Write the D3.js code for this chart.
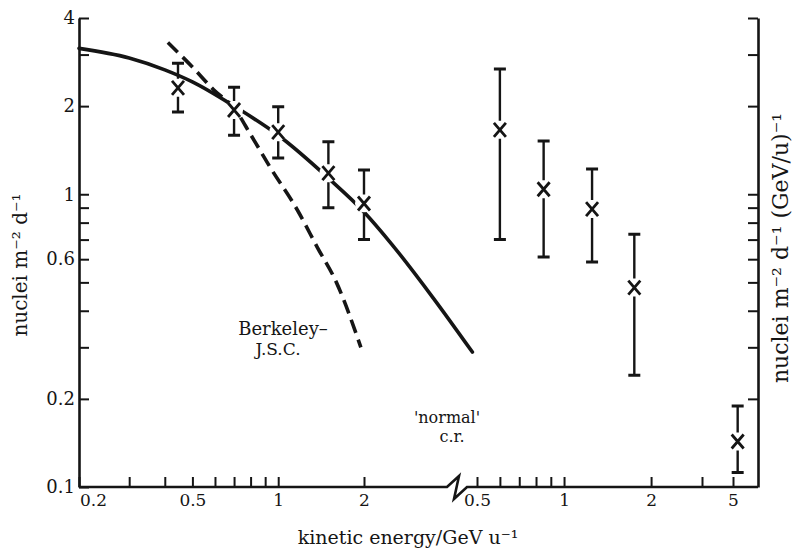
<!DOCTYPE html>
<html>
<head>
<meta charset="utf-8">
<script src="https://cdn.jsdelivr.net/npm/d3@7"></script>
<style>
  body { margin: 0; background: #fff; }
  svg { display: block; font-family: "DejaVu Serif", serif; }
</style>
</head>
<body>
<svg id="chart" width="793" height="556"></svg>
<script>
// 'normal' cosmic-ray curve (left block, nuclei m^-2 d^-1)
const crEnergy = [0.2, 0.3, 0.4, 0.5, 0.7, 1.0, 1.5, 2.0, 2.5, 3.5, 4.8];
const crFlux   = [3.15, 2.92, 2.66, 2.42, 2.0, 1.59, 1.135, 0.87, 0.676, 0.442, 0.289];
// Berkeley - J.S.C. dashed curve
const bjEnergy = [0.41, 0.5, 0.6, 0.7, 0.8, 0.94, 1.17, 1.37, 1.6, 1.95];
const bjFlux   = [3.3, 2.72, 2.25, 1.97, 1.6, 1.23, 0.88, 0.66, 0.5, 0.3];
// measured points, left block
const lowE   = [0.445, 0.7, 1.0, 1.5, 2.0];
const lowVal = [2.31, 1.94, 1.63, 1.18, 0.93];
const lowHi  = [2.80, 2.32, 1.99, 1.51, 1.21];
const lowLo  = [1.91, 1.59, 1.33, 0.90, 0.70];
// measured points, right block (per GeV/u)
const highE   = [0.6, 0.85, 1.25, 1.75, 5.4];
const highVal = [1.66, 1.04, 0.89, 0.48, 0.143];
const highHi  = [2.68, 1.52, 1.22, 0.73, 0.189];
const highLo  = [0.70, 0.61, 0.587, 0.241, 0.112];
// ticks
const yTicks   = [0.1, 0.2, 0.3, 0.4, 0.5, 0.6, 0.7, 0.8, 0.9, 1, 2, 3, 4];
const yLabels  = [0.1, 0.2, 0.6, 1, 2, 4];
const yTicksR  = [0.2, 0.3, 0.4, 0.5, 0.6, 0.7, 0.8, 0.9, 1, 2, 3, 4];
const xTicks1  = [0.2, 0.3, 0.4, 0.5, 0.6, 0.7, 0.8, 0.9, 1, 2];
const xLabels1 = [0.2, 0.5, 1, 2];
const xTicks2  = [0.5, 0.6, 0.7, 0.8, 0.9, 1, 2, 3, 5];
const xLabels2 = [0.5, 1, 2, 5];

const ink = "#151515";
const plotL = 79, plotR = 758, plotT = 18, plotB = 487, breakX = 447;

const svg = d3.select("#chart");

const y  = d3.scaleLog().domain([0.1, 4]).range([plotB, plotT]);
const x1 = d3.scaleLog().domain([0.2, 2]).range([plotL, 364]);
// second block is drawn a little squeezed past 3 in the original
const x2 = d3.scaleLog().domain([0.5, 3, 5]).range([477, 702, 733]);

function styleAxis(g, size) {
    g.selectAll("line").attr("stroke", ink).attr("stroke-width", 2);
    g.selectAll(".domain").attr("stroke", ink).attr("stroke-width", 2.6);
    g.selectAll("text").attr("fill", ink).attr("font-size", size)
        .attr("font-family", "DejaVu Serif");
}

// left axis, ticks inward
const gL = svg.append("g").attr("transform", `translate(${plotL},0)`)
    .call(d3.axisLeft(y).tickValues(yTicks).tickSize(-10).tickSizeOuter(0).tickPadding(4)
        .tickFormat(d => yLabels.includes(d) ? String(d) : ""));
styleAxis(gL, 18);

// right axis, no labels
const gR = svg.append("g").attr("transform", `translate(${plotR},0)`)
    .call(d3.axisRight(y).tickValues(yTicksR).tickSize(-10).tickSizeOuter(0).tickFormat(""));
styleAxis(gR, 18);

// bottom axis, two blocks
const gB1 = svg.append("g").attr("transform", `translate(0,${plotB})`)
    .call(d3.axisBottom(x1).tickValues(xTicks1).tickSize(-10).tickPadding(7)
        .tickFormat(d => xLabels1.includes(d) ? String(d) : ""));
gB1.select(".domain").remove();
gB1.selectAll(".tick").filter(d => d === 0.2).select("text").attr("x", 14);
styleAxis(gB1, 17);

const gB2 = svg.append("g").attr("transform", `translate(0,${plotB})`)
    .call(d3.axisBottom(x2).tickValues(xTicks2).tickSize(-10).tickPadding(7)
        .tickFormat(d => xLabels2.includes(d) ? String(d) : ""));
gB2.select(".domain").remove();
styleAxis(gB2, 17);

// baseline with the break mark
svg.append("path")
    .attr("d", `M${plotL},${plotB}H${breakX}l12,-11l-5,23l13,-12H${plotR}`)
    .attr("fill", "none").attr("stroke", ink).attr("stroke-width", 2.6)
    .attr("stroke-linejoin", "miter");

// curves
const lineL = d3.line().x(d => x1(d[0])).y(d => y(d[1])).curve(d3.curveMonotoneX);

svg.append("path").datum(d3.zip(crEnergy, crFlux))
    .attr("d", lineL).attr("fill", "none").attr("stroke", ink)
    .attr("stroke-width", 3.6).attr("stroke-linecap", "round");

svg.append("path").datum(d3.zip(bjEnergy, bjFlux))
    .attr("d", lineL).attr("fill", "none").attr("stroke", ink)
    .attr("stroke-width", 3.6).attr("stroke-dasharray", "14,7");

// data points with error bars
function drawPoints(xs, E, V, Hi, Lo) {
    const pts = E.map((e, i) => ({x: xs(e), y: y(V[i]), hi: y(Hi[i]), lo: y(Lo[i])}));
    const g = svg.append("g");
    // white gap round each cross, the curves stop there
    g.selectAll("circle").data(pts).join("circle")
        .attr("cx", d => d.x).attr("cy", d => d.y).attr("r", 9).attr("fill", "#fff");
    g.selectAll("path.bar").data(pts).join("path").attr("class", "bar")
        .attr("d", d => `M${d.x},${d.hi}V${d.y - 9}M${d.x},${d.y + 9}V${d.lo}`)
        .attr("stroke", ink).attr("stroke-width", 2.4).attr("fill", "none");
    g.selectAll("path.cap").data(pts).join("path").attr("class", "cap")
        .attr("d", d => `M${d.x - 6},${d.hi}h12M${d.x - 6},${d.lo}h12`)
        .attr("stroke", ink).attr("stroke-width", 3).attr("fill", "none");
    g.selectAll("path.cross").data(pts).join("path").attr("class", "cross")
        .attr("d", d => `M${d.x - 6},${d.y - 7}L${d.x + 6},${d.y + 7}M${d.x + 6},${d.y - 7}L${d.x - 6},${d.y + 7}`)
        .attr("stroke", ink).attr("stroke-width", 2.8).attr("fill", "none");
}
drawPoints(x1, lowE, lowVal, lowHi, lowLo);
drawPoints(x2, highE, highVal, highHi, highLo);

// annotations
function label(txt, x, yy, size) {
    svg.append("text").attr("x", x).attr("y", yy).attr("text-anchor", "middle")
        .attr("font-size", size).attr("fill", ink).text(txt);
}
label("Berkeley\u2013", 283, 335, 18);
label("J.S.C.", 278, 355, 17);
label("'normal'", 447, 423, 16);
label("c.r.", 452, 442, 16);

// axis titles
svg.append("text").attr("x", 408).attr("y", 544).attr("text-anchor", "middle")
    .attr("font-size", 19).attr("fill", ink).text("kinetic energy/GeV u\u207B\u00B9");

svg.append("text").attr("transform", "translate(27,265) rotate(-90)")
    .attr("text-anchor", "middle").attr("font-size", 20).attr("fill", ink)
    .text("nuclei m\u207B\u00B2 d\u207B\u00B9");

svg.append("text").attr("transform", "translate(788,248) rotate(-90)")
    .attr("text-anchor", "middle").attr("font-size", 22).attr("fill", ink)
    .text("nuclei m\u207B\u00B2 d\u207B\u00B9 (GeV/u)\u207B\u00B9");
</script>
</body>
</html>
